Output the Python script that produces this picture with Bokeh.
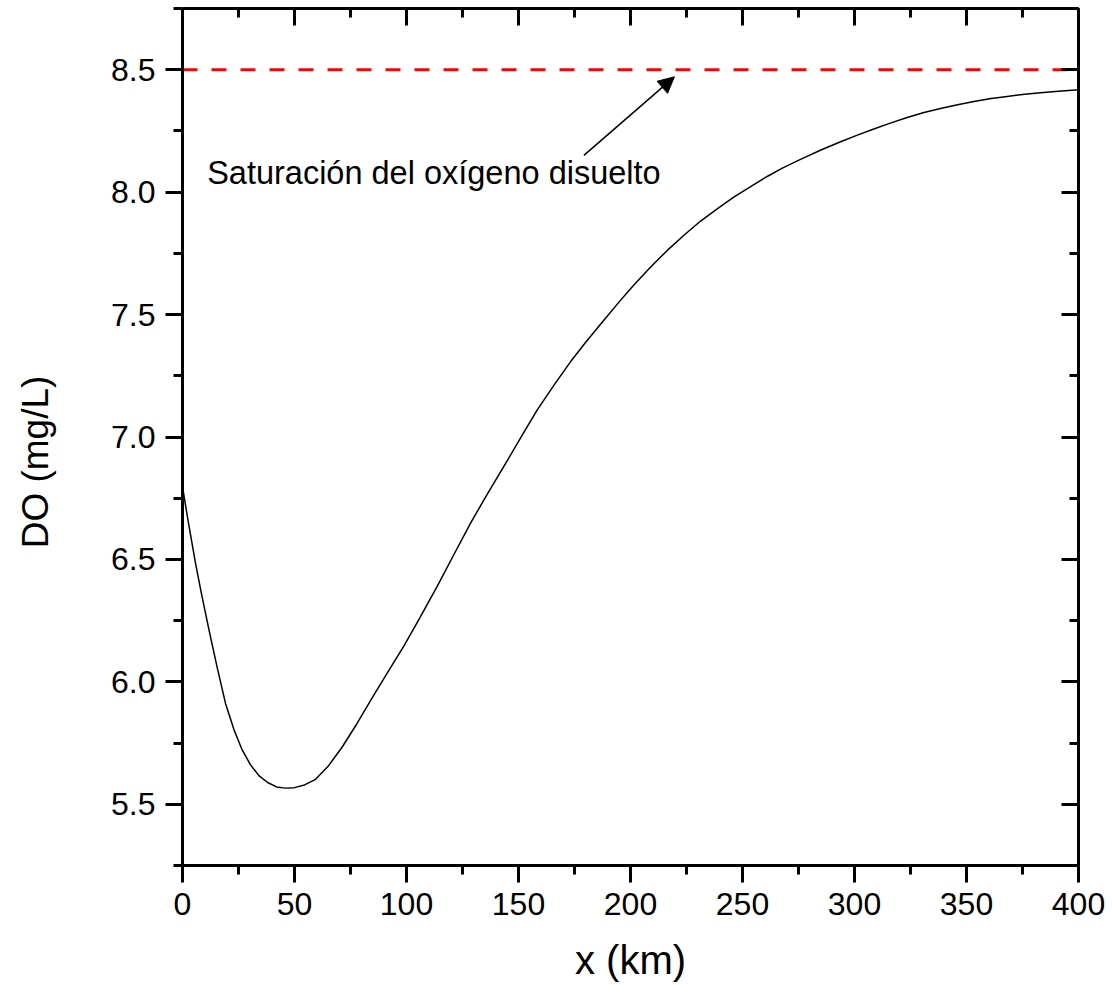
from bokeh.plotting import figure
from bokeh.layouts import row
from bokeh.models import (Range1d, LinearAxis, SingleIntervalTicker, NumeralTickFormatter,
                          CustomJSTickFormatter, Arrow, NormalHead, Label)
from bokeh.core.properties import value
from bokeh.embed import file_html
from bokeh.resources import INLINE
import math

# ---- data ----
x_km = [0, 2.5, 5.8, 8.5, 11.8, 15.5, 19.2, 23.0, 26.6, 30.3, 34.1, 38.0, 42.0, 46.0,
        50.0, 54.5, 59.4, 65.0, 71.3, 78.0, 85.0, 92.0, 98.8, 106.0, 113.7, 121.0,
        128.6, 136.0, 143.4, 151.0, 158.3, 166.0, 173.2, 180.0, 188.1, 195.5, 201.5,
        209.0, 216.4, 224.0, 231.3, 239.0, 246.1, 254.0, 261.0, 268.0, 275.9, 285.0,
        293.8, 301.0, 308.6, 316.0, 323.5, 331.0, 338.4, 346.0, 353.3, 361.0, 368.2,
        376.0, 383.0, 391.0, 400.0]
do_mgl = [6.797, 6.657, 6.485, 6.358, 6.213, 6.058, 5.912, 5.804, 5.723, 5.662, 5.617,
          5.589, 5.571, 5.566, 5.568, 5.579, 5.602, 5.655, 5.734, 5.831, 5.940, 6.045,
          6.146, 6.262, 6.390, 6.517, 6.648, 6.766, 6.879, 6.997, 7.110, 7.214, 7.307,
          7.387, 7.477, 7.558, 7.621, 7.694, 7.762, 7.825, 7.882, 7.934, 7.980, 8.025,
          8.064, 8.099, 8.134, 8.172, 8.206, 8.232, 8.258, 8.282, 8.305, 8.325, 8.342,
          8.357, 8.370, 8.382, 8.391, 8.400, 8.406, 8.412, 8.418]

sat_x = [0, 400]
sat_do = [8.5, 8.5]

x_title = "x (km)"
y_title = "DO (mg/L)"
annot_text = "Saturación del oxígeno disuelto"
annot_x, annot_y = 11.0, 8.08
arrow_start = (179.2, 8.15)
arrow_end = (219.6, 8.471)
ytitle_x, ytitle_y = 35, 6.898

FONT = "Liberation Sans"
LW = 3
TITLE_W = 60
Y_START, Y_END = 5.25, 8.75

# ---- narrow strip holding the vertical axis title (frame aligned with the chart) ----
side = figure(width=TITLE_W, height=985, x_range=Range1d(0, TITLE_W),
              y_range=Range1d(Y_START, Y_END),
              x_axis_type=None, y_axis_type=None, output_backend="svg", toolbar_location=None,
              min_border=0, background_fill_color="white", border_fill_color="white")
side.outline_line_color = None
side.grid.visible = False
side.text(x=[ytitle_x], y=[ytitle_y], text=[y_title], angle=math.pi / 2,
          text_font=value(FONT), text_font_size="37px", text_color="black",
          text_align="center", text_baseline="middle")

# ---- main chart ----
p = figure(frame_width=896, frame_height=857,
           x_range=Range1d(0, 400), y_range=Range1d(Y_START, Y_END),
           output_backend="svg", toolbar_location=None,
           min_border_left=182 - TITLE_W, min_border_right=34, min_border_top=8,
           min_border_bottom=120,
           background_fill_color="white", border_fill_color="white")
p.outline_line_color = None
p.xgrid.grid_line_color = None
p.ygrid.grid_line_color = None

def style(ax, tin, tout):
    ax.axis_line_width = LW
    ax.axis_line_color = "black"
    ax.major_tick_line_width = LW
    ax.minor_tick_line_width = LW
    ax.major_tick_line_color = "black"
    ax.minor_tick_line_color = "black"
    ax.major_tick_in = 17 if tin else 0
    ax.major_tick_out = 17 if tout else 0
    ax.minor_tick_in = 9 if tin else 0
    ax.minor_tick_out = 9 if tout else 0
    ax.major_label_text_font = FONT
    ax.major_label_text_color = "black"
    ax.axis_label_text_font = FONT
    ax.axis_label_text_font_style = "normal"
    ax.axis_label_text_color = "black"

xa = p.xaxis[0]
xa.ticker = SingleIntervalTicker(interval=50, num_minor_ticks=2)
style(xa, False, True)
xa.major_label_text_font_size = "32px"
xa.major_label_standoff = 10
xa.axis_label = x_title
xa.axis_label_text_font_size = "40px"
xa.axis_label_standoff = 20

ya = p.yaxis[0]
ya.ticker = SingleIntervalTicker(interval=0.5, num_minor_ticks=2)
style(ya, False, True)
ya.formatter = NumeralTickFormatter(format="0.0")
ya.major_label_text_font_size = "32px"
ya.major_label_standoff = 10

blank = CustomJSTickFormatter(code="return ''")
top = LinearAxis(ticker=SingleIntervalTicker(interval=50, num_minor_ticks=2), formatter=blank)
style(top, True, False)
top.major_label_text_font_size = "1px"
top.major_label_standoff = 0
p.add_layout(top, "above")

right = LinearAxis(ticker=SingleIntervalTicker(interval=0.5, num_minor_ticks=2), formatter=blank)
style(right, True, False)
right.major_label_text_font_size = "1px"
right.major_label_standoff = 0
p.add_layout(right, "right")

p.line(sat_x, sat_do, line_color="#ff0000", line_width=3, line_dash="15 14")
p.line(x_km, do_mgl, line_color="black", line_width=1.5)

p.add_layout(Arrow(end=NormalHead(size=16, fill_color="black", line_color="black", line_width=1),
                   x_start=arrow_start[0], y_start=arrow_start[1],
                   x_end=arrow_end[0], y_end=arrow_end[1],
                   line_color="black", line_width=1.5))
p.add_layout(Label(x=annot_x, y=annot_y, text=annot_text, text_font=FONT,
                   text_font_size="32.5px", text_color="black", text_baseline="alphabetic"))

layout = row(side, p, spacing=0)
open("out.html", "w").write(file_html(layout, INLINE))
